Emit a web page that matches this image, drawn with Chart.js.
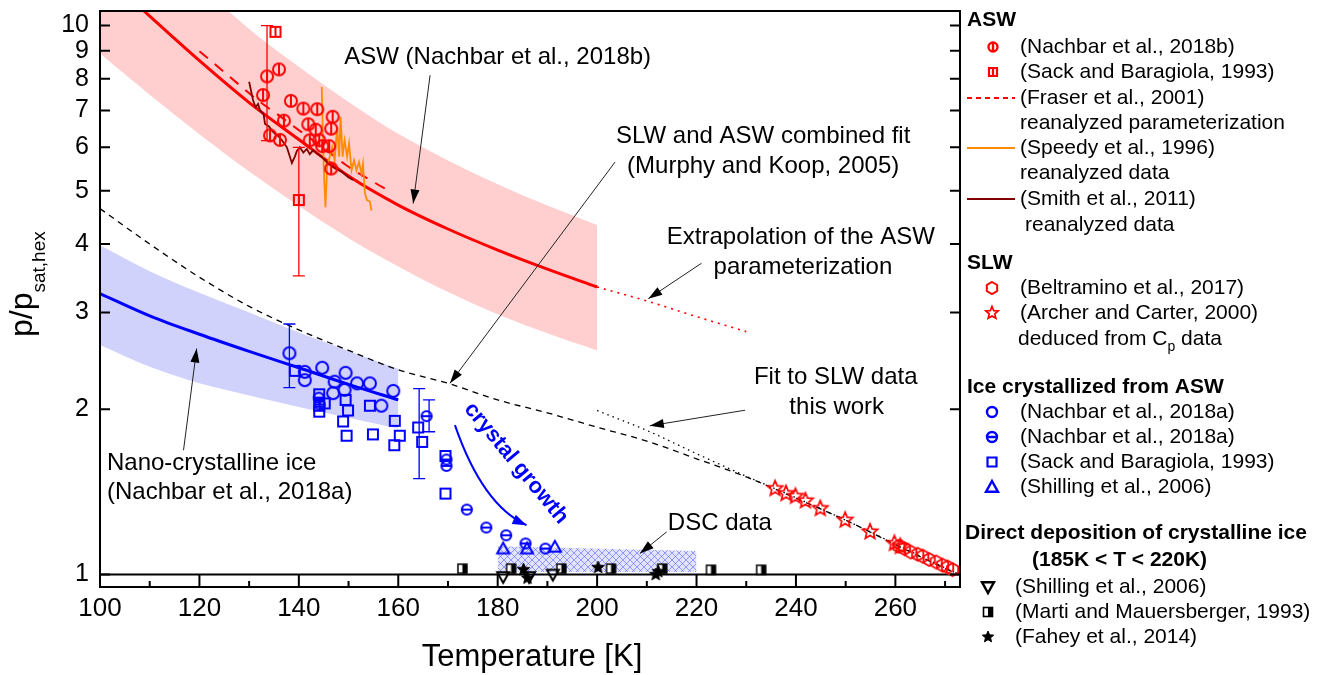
<!DOCTYPE html>
<html>
<head>
<meta charset="utf-8">
<script src="https://cdn.jsdelivr.net/npm/chart.js@4.4.0/dist/chart.umd.min.js"></script>
<style>
  html, body { margin: 0; padding: 0; background: #fff; }
  #wrap { width: 1324px; height: 675px; }
</style>
</head>
<body>
<div id="wrap"><canvas id="c" width="1324" height="675"></canvas></div>
<script>
'use strict';

const FONT = 'Arial, "Liberation Sans", sans-serif';

// ---- axis ticks ----
const xTicks = [100, 120, 140, 160, 180, 200, 220, 240, 260];
const xMinor = [110, 130, 150, 170, 190, 210, 230, 250, 270];
const yTicks = [1, 2, 3, 4, 5, 6, 7, 8, 9, 10];

// ---- ASW parameterization (Nachbar 2018b) with uncertainty band ----
const aswT   = [100, 110, 120, 130, 140, 150, 160, 170, 180, 190, 200];
const aswFit = [12.6, 10.4, 8.63, 7.24, 6.2, 5.32, 4.71, 4.26, 3.9, 3.6, 3.34];
const aswHi  = [17.8, 14.5, 11.86, 9.86, 8.41, 7.26, 6.35, 5.68, 5.14, 4.7, 4.33];
const aswLo  = [8.89, 7.48, 6.34, 5.42, 4.69, 4.1, 3.64, 3.27, 2.98, 2.75, 2.56];
const extrapT = [200, 210, 220, 230];
const extrapP = [3.34, 3.15, 2.95, 2.77];

// ---- ASW literature ----
const fraserT = [120, 124, 128, 132, 136, 140, 145, 150, 155, 158];
const fraserP = [8.98, 8.37, 7.8, 7.28, 6.86, 6.45, 5.98, 5.53, 5.19, 5.01];
const speedyT = [144.6, 145.0, 145.35, 145.7, 146.2, 146.7, 147.2, 147.7, 148.1, 148.4, 148.8, 149.2,
                 149.7, 150.1, 150.6, 151.1, 151.6, 152.1, 152.6, 152.9, 153.3, 153.7, 154.3, 154.6];
const speedyP = [7.73, 5.53, 4.67, 5.53, 5.77, 6.01, 5.68, 6.54, 5.77, 6.82, 5.77, 6.18,
                 5.77, 6.1, 5.45, 5.68, 5.45, 5.64, 5.37, 5.6, 4.94, 4.81, 4.78, 4.6];
const smithT = [130.0, 130.8, 131.3, 131.8, 132.2, 132.9, 133.2, 134.0, 134.5, 135.2, 135.8, 136.6, 137.6,
                138.2, 138.6, 139.2, 139.6, 140.2, 140.9, 141.6, 142.2, 142.9, 143.6, 144.6, 145.9,
                147.3, 148.6, 149.9, 150.9];
const smithP = [7.9, 7.3, 7.1, 7.2, 7.0, 6.9, 6.62, 6.55, 6.45, 6.35, 6.3, 6.18, 6.0,
                5.77, 5.62, 5.77, 5.91, 6.0, 5.87, 5.96, 5.83, 5.93, 5.85, 5.77, 5.6,
                5.49, 5.42, 5.3, 5.23];
const nb18bT = [132.8, 133.6, 136.0, 138.4, 140.9, 143.7, 137.0, 141.9, 143.4, 146.8, 146.5, 134.2,
                136.2, 142.2, 144.1, 144.7, 146.1, 146.5];
const nb18bP = [7.47, 8.08, 8.32, 7.29, 7.06, 7.04, 6.71, 6.61, 6.46, 6.82, 6.49, 6.31,
                6.19, 6.18, 6.18, 6.03, 6.03, 5.49];
const sackAswT = [135.3, 140.0];
const sackAswP = [9.74, 4.81];
const redErrT  = [133.6, 140.0];
const redErrLo = [6.17, 3.5];
const redErrHi = [10.0, 6.0];

// ---- SLW ----
const mkT = [100, 110, 120, 130, 140, 150, 160, 170, 180, 190, 200, 210, 220, 230, 240, 250, 260, 270, 273];
const mkP = [4.64, 4.0, 3.48, 3.08, 2.79, 2.56, 2.36, 2.23, 2.08, 1.97, 1.855, 1.75, 1.625, 1.506,
             1.377, 1.256, 1.134, 1.026, 1.0];
const slwT = [200, 210, 220, 230, 240, 250, 260, 270, 273];
const slwP = [1.99, 1.83, 1.66, 1.51, 1.38, 1.256, 1.136, 1.028, 0.998];
const archerT = [235.8, 238.0, 239.9, 241.9, 244.9, 249.9, 254.9, 259.8, 261.0];
const archerP = [1.434, 1.404, 1.388, 1.362, 1.319, 1.256, 1.196, 1.139, 1.125];
const beltT = [260.7, 261.8, 263.1, 264.5, 265.5, 266.8, 268.2, 269.5, 270.5, 271.5];
const beltP = [1.126, 1.115, 1.099, 1.089, 1.08, 1.065, 1.054, 1.04, 1.032, 1.021];

// ---- ice crystallized from ASW ----
const nanoT   = [100, 110, 120, 130, 140, 150, 160];
const nanoFit = [3.25, 2.96, 2.74, 2.55, 2.38, 2.22, 2.08];
const nanoHi  = [3.98, 3.57, 3.26, 3.0, 2.76, 2.555, 2.37];
const nanoLo  = [2.62, 2.39, 2.23, 2.12, 2.02, 1.93, 1.845];
const nb18aT = [138.1, 141.2, 141.2, 144.7, 147.2, 146.9, 149.4, 149.2, 151.7, 154.3, 156.6, 159.0];
const nb18aP = [2.53, 2.34, 2.26, 2.38, 2.245, 2.14, 2.33, 2.17, 2.23, 2.23, 2.03, 2.16];
const nb18aHT = [144.0, 144.2, 165.7, 169.7, 169.7, 173.8, 177.7, 181.7, 185.6, 189.6];
const nb18aHP = [2.1, 2.04, 1.943, 1.62, 1.577, 1.313, 1.218, 1.179, 1.139, 1.115];
const sackCrT = [139.2, 144.1, 144.1, 144.1, 145.2, 149.4, 149.9, 148.9, 149.6, 154.3, 154.9, 159.3,
                 160.3, 159.2, 164.0, 164.8, 169.5, 169.5];
const sackCrP = [2.35, 2.13, 2.03, 1.98, 2.05, 2.08, 1.99, 1.9, 1.79, 2.03, 1.8, 1.905,
                 1.79, 1.72, 1.853, 1.744, 1.644, 1.404];
const shillUpT = [181.1, 185.9, 191.5];
const shillUpP = [1.115, 1.115, 1.123];
const blueErrT  = [138.1, 164.2, 166.2];
const blueErrLo = [2.19, 1.495, 1.82];
const blueErrHi = [2.86, 2.18, 2.08];

// ---- direct deposition ----
const shillDnT = [181.1, 186.3, 191.1];
const shillDnP = [0.99, 0.99, 1.0];
const martiT = [172.9, 182.7, 192.8, 202.8, 213.1, 222.9, 233.0];
const martiP = [1.025, 1.025, 1.025, 1.025, 1.025, 1.02, 1.02];
const faheyT = [185.2, 186.0, 200.2, 211.8, 212.3];
const faheyP = [1.021, 0.985, 1.03, 1.0, 1.012];
const dscT   = [180, 220];
const dscTop = [1.126, 1.104];
const dscBot = [1.011, 1.011];
const unityT = [100, 273];
const unityP = [1, 1];

// ---- annotations (data coordinates) ----
const notes = [
    { text: 'ASW (Nachbar et al., 2018b)', T: 180, p: 8.75, align: 'center' },
    { text: 'SLW and ASW combined fit', T: 233.4, p: 6.27, align: 'center' },
    { text: '(Murphy and Koop, 2005)', T: 233.4, p: 5.53, align: 'center' },
    { text: 'Extrapolation of the ASW', T: 241.0, p: 4.12, align: 'center' },
    { text: 'parameterization', T: 241.4, p: 3.63, align: 'center' },
    { text: 'Fit to SLW data', T: 248.0, p: 2.29, align: 'center' },
    { text: 'this work', T: 248.2, p: 2.02, align: 'center' },
    { text: 'Nano-crystalline ice', T: 101.4, p: 1.593, align: 'left' },
    { text: '(Nachbar et al., 2018a)', T: 101.4, p: 1.414, align: 'left' },
    { text: 'DSC data', T: 224.7, p: 1.238, align: 'center' },
];
const arrows = [
    [[166.4, 8.12], [163.0, 4.74]],
    [[203.6, 5.64], [170.4, 2.23]],
    [[221.0, 3.69], [210.3, 3.18]],
    [[229.75, 1.992], [210.6, 1.866]],
    [[116.8, 1.684], [119.45, 2.58]],
    [[214.0, 1.196], [208.6, 1.092]],
];
const growthArrow = [[171.4, 1.871], [176.97, 1.337], [185.8, 1.23]];
const growthLabel = { text: 'crystal growth', T: 183.7, p: 1.595, angle: 50.4 };

// ---- symbols ----
function drawSym(ctx, kind, x, y, s, color, lw) {
    const r = s / 2;
    ctx.save();
    ctx.strokeStyle = color;
    ctx.fillStyle = color;
    ctx.lineWidth = lw;
    ctx.lineJoin = 'miter';
    ctx.beginPath();
    if (kind === 'circle' || kind === 'circleV' || kind === 'circleH') {
        ctx.arc(x, y, r, 0, Math.PI * 2);
        if (kind === 'circleV') { ctx.moveTo(x, y - r); ctx.lineTo(x, y + r); }
        if (kind === 'circleH') { ctx.moveTo(x - r, y); ctx.lineTo(x + r, y); }
        ctx.stroke();
    } else if (kind === 'square' || kind === 'squareV') {
        ctx.rect(x - r, y - r, s, s);
        if (kind === 'squareV') { ctx.moveTo(x, y - r); ctx.lineTo(x, y + r); }
        ctx.stroke();
    } else if (kind === 'halfSquare') {
        ctx.fillStyle = '#fff';
        ctx.fillRect(x - r, y - r, s, s);
        ctx.fillStyle = color;
        ctx.fillRect(x, y - r, r, s);
        ctx.strokeRect(x - r, y - r, s, s);
    } else if (kind === 'triUp' || kind === 'triDown') {
        const d = kind === 'triUp' ? 1 : -1;
        ctx.moveTo(x, y - d * r);
        ctx.lineTo(x + r, y + d * r * 0.8);
        ctx.lineTo(x - r, y + d * r * 0.8);
        ctx.closePath();
        ctx.stroke();
    } else if (kind === 'hexagon') {
        for (let i = 0; i < 6; i++) {
            const a = -Math.PI / 2 + i * Math.PI / 3;
            ctx.lineTo(x + r * Math.cos(a), y + r * Math.sin(a));
        }
        ctx.closePath();
        ctx.stroke();
    } else if (kind === 'star' || kind === 'starFill') {
        for (let i = 0; i < 10; i++) {
            const a = -Math.PI / 2 + i * Math.PI / 5;
            const rr = i % 2 ? r * 0.45 : r;
            ctx.lineTo(x + rr * Math.cos(a), y + rr * Math.sin(a));
        }
        ctx.closePath();
        if (kind === 'starFill') ctx.fill();
        ctx.stroke();
    }
    ctx.restore();
}

function makeSym(kind, s, color, lw) {
    const pad = Math.ceil(lw) + 2;
    const c = document.createElement('canvas');
    c.width = c.height = Math.ceil(s) + pad * 2;
    drawSym(c.getContext('2d'), kind, c.width / 2, c.height / 2, s, color, lw);
    return c;
}

const RED = '#ff0000', BLUE = '#0000ff', BLACK = '#000000';

const canvas = document.getElementById('c');
const ctx0 = canvas.getContext('2d');

function makeHatch() {
    const c = document.createElement('canvas');
    c.width = c.height = 7;
    const g = c.getContext('2d');
    g.fillStyle = 'rgba(205,208,255,0.6)';
    g.fillRect(0, 0, 7, 7);
    g.strokeStyle = 'rgba(80,90,255,0.7)';
    g.lineWidth = 0.8;
    g.beginPath();
    g.moveTo(0, 0); g.lineTo(7, 7);
    g.moveTo(7, 0); g.lineTo(0, 7);
    g.stroke();
    return ctx0.createPattern(c, 'repeat');
}

const pts = (xs, ys) => xs.map((x, i) => ({ x, y: ys[i] }));

function lineDs(xs, ys, color, width, dash, order, extra) {
    return Object.assign({
        data: pts(xs, ys), showLine: true, borderColor: color, borderWidth: width,
        borderDash: dash || [], pointRadius: 0, fill: false, tension: 0, order,
    }, extra || {});
}
function markDs(xs, ys, sym, order) {
    return { data: pts(xs, ys), showLine: false, pointStyle: sym, pointRadius: 5, order };
}
const smooth = { cubicInterpolationMode: 'monotone' };

const datasets = [
    lineDs(aswT, aswHi, 'transparent', 0, null, 30, { fill: '+1', backgroundColor: 'rgba(255,0,0,0.19)', ...smooth }),
    lineDs(aswT, aswLo, 'transparent', 0, null, 30, smooth),
    lineDs(nanoT, nanoHi, 'transparent', 0, null, 30, { fill: '+1', backgroundColor: 'rgba(20,30,235,0.2)', ...smooth }),
    lineDs(nanoT, nanoLo, 'transparent', 0, null, 30, smooth),
    lineDs(dscT, dscTop, 'transparent', 0, null, 29, { fill: '+1', backgroundColor: makeHatch() }),
    lineDs(dscT, dscBot, 'transparent', 0, null, 29),
    lineDs(mkT, mkP, BLACK, 1.3, [6, 5], 20, smooth),
    lineDs(slwT, slwP, BLACK, 1.3, [1.5, 4], 20, smooth),
    lineDs(extrapT, extrapP, RED, 1.6, [2, 5], 20, smooth),
    lineDs(unityT, unityP, BLACK, 2, null, 19),
    lineDs(aswT, aswFit, RED, 3, null, 18, smooth),
    lineDs(fraserT, fraserP, RED, 2, [11, 9], 18, smooth),
    lineDs(speedyT, speedyP, '#ff8c00', 1.8, null, 17),
    lineDs(smithT, smithP, '#800000', 1.8, null, 16),
    lineDs(nanoT, nanoFit, BLUE, 3, null, 18, smooth),
    markDs(martiT, martiP, makeSym('halfSquare', 9, BLACK, 1.5), 9),
    markDs(shillDnT, shillDnP, makeSym('triDown', 12, BLACK, 2), 8),
    markDs(faheyT, faheyP, makeSym('starFill', 13, BLACK, 1), 7),
    markDs(sackCrT, sackCrP, makeSym('square', 10, BLUE, 2), 6),
    markDs(nb18aT, nb18aP, makeSym('circle', 12, BLUE, 2), 5),
    markDs(nb18aHT, nb18aHP, makeSym('circleH', 10, BLUE, 2.2), 5),
    markDs(shillUpT, shillUpP, makeSym('triUp', 12, BLUE, 2), 5),
    markDs(archerT, archerP, makeSym('star', 16, RED, 1.7), 4),
    markDs(beltT, beltP, makeSym('hexagon', 13, RED, 1.8), 4),
    markDs(sackAswT, sackAswP, makeSym('squareV', 10, RED, 2), 3),
    markDs(nb18bT, nb18bP, makeSym('circleV', 12, RED, 2), 2),
];

function arrowHead(ctx, x0, y0, x1, y1, len, half) {
    const a = Math.atan2(y1 - y0, x1 - x0);
    ctx.beginPath();
    ctx.moveTo(x1, y1);
    ctx.lineTo(x1 - len * Math.cos(a) + half * Math.sin(a), y1 - len * Math.sin(a) - half * Math.cos(a));
    ctx.lineTo(x1 - len * Math.cos(a) - half * Math.sin(a), y1 - len * Math.sin(a) + half * Math.cos(a));
    ctx.closePath();
    ctx.fill();
}

function drawErrBars(ctx, xs, ys, Ts, lo, hi, color) {
    ctx.save();
    ctx.strokeStyle = color;
    ctx.lineWidth = 1.3;
    Ts.forEach((t, i) => {
        const x = xs.getPixelForValue(t);
        const y0 = ys.getPixelForValue(lo[i]);
        const y1 = ys.getPixelForValue(hi[i]);
        ctx.beginPath();
        ctx.moveTo(x, y0); ctx.lineTo(x, y1);
        ctx.moveTo(x - 6, y0); ctx.lineTo(x + 6, y0);
        ctx.moveTo(x - 6, y1); ctx.lineTo(x + 6, y1);
        ctx.stroke();
    });
    ctx.restore();
}

const annotations = {
    id: 'annotations',
    afterDatasetsDraw(chart) {
        const { ctx, scales: { x: xs, y: ys } } = chart;
        drawErrBars(ctx, xs, ys, redErrT, redErrLo, redErrHi, RED);
        drawErrBars(ctx, xs, ys, blueErrT, blueErrLo, blueErrHi, BLUE);

        ctx.save();
        ctx.fillStyle = '#000';
        ctx.font = '24px ' + FONT;
        ctx.textBaseline = 'middle';
        notes.forEach(n => {
            ctx.textAlign = n.align;
            ctx.fillText(n.text, xs.getPixelForValue(n.T), ys.getPixelForValue(n.p));
        });

        ctx.strokeStyle = '#222';
        ctx.fillStyle = '#000';
        ctx.lineWidth = 1;
        arrows.forEach(([a, b]) => {
            const x0 = xs.getPixelForValue(a[0]), y0 = ys.getPixelForValue(a[1]);
            const x1 = xs.getPixelForValue(b[0]), y1 = ys.getPixelForValue(b[1]);
            ctx.beginPath();
            ctx.moveTo(x0, y0); ctx.lineTo(x1, y1);
            ctx.stroke();
            arrowHead(ctx, x0, y0, x1, y1, 14, 4.5);
        });

        // crystal growth arrow + label
        const g = growthArrow.map(([t, p]) => [xs.getPixelForValue(t), ys.getPixelForValue(p)]);
        ctx.strokeStyle = BLUE;
        ctx.fillStyle = BLUE;
        ctx.lineWidth = 2;
        ctx.beginPath();
        ctx.moveTo(g[0][0], g[0][1]);
        ctx.quadraticCurveTo(g[1][0], g[1][1], g[2][0], g[2][1]);
        ctx.stroke();
        arrowHead(ctx, g[1][0], g[1][1], g[2][0], g[2][1], 14, 5);

        ctx.translate(xs.getPixelForValue(growthLabel.T), ys.getPixelForValue(growthLabel.p));
        ctx.rotate(growthLabel.angle * Math.PI / 180);
        ctx.font = 'bold 22px ' + FONT;
        ctx.textAlign = 'center';
        ctx.fillText(growthLabel.text, 0, 0);
        ctx.restore();
    },
    afterDraw(chart) {
        const { ctx, chartArea: a, scales: { x: xs, y: ys } } = chart;
        ctx.save();
        ctx.strokeStyle = '#000';
        ctx.lineWidth = 2;
        ctx.strokeRect(a.left, a.top, a.right - a.left, a.bottom - a.top);
        ctx.beginPath();
        xTicks.forEach(t => {
            const x = xs.getPixelForValue(t);
            ctx.moveTo(x, a.bottom); ctx.lineTo(x, a.bottom - 12);
        });
        xMinor.forEach(t => {
            const x = xs.getPixelForValue(t);
            ctx.moveTo(x, a.bottom); ctx.lineTo(x, a.bottom - 6);
        });
        yTicks.forEach(v => {
            const y = ys.getPixelForValue(v);
            ctx.moveTo(a.left, y); ctx.lineTo(a.left + 10, y);
            ctx.moveTo(a.right, y); ctx.lineTo(a.right - 10, y);
        });
        ctx.stroke();

        // axis titles
        ctx.fillStyle = '#000';
        ctx.font = '31px ' + FONT;
        ctx.textAlign = 'center';
        ctx.textBaseline = 'middle';
        ctx.fillText('Temperature [K]', (a.left + a.right) / 2 + 2, 657);

        ctx.save();
        ctx.translate(32, 337);
        ctx.rotate(-Math.PI / 2);
        ctx.textAlign = 'left';
        ctx.textBaseline = 'alphabetic';
        ctx.font = '32px ' + FONT;
        ctx.fillText('p/p', 0, 0);
        const w = ctx.measureText('p/p').width;
        ctx.font = '19px ' + FONT;
        ctx.fillText('sat,hex', w, 13);
        ctx.restore();

        drawLegend(ctx);
        ctx.restore();
    },
};

function drawLegend(ctx) {
    ctx.save();
    ctx.fillStyle = '#000';
    ctx.textAlign = 'left';
    ctx.textBaseline = 'middle';
    const head = (t, x, y) => { ctx.font = 'bold 21px ' + FONT; ctx.fillStyle = '#000'; ctx.fillText(t, x, y); };
    const txt = (t, x, y) => { ctx.font = '21px ' + FONT; ctx.fillStyle = '#000'; ctx.fillText(t, x, y); };
    const seg = (y, color, dash) => {
        ctx.save();
        ctx.strokeStyle = color; ctx.lineWidth = 2; ctx.setLineDash(dash || []);
        ctx.beginPath(); ctx.moveTo(967, y); ctx.lineTo(1015, y); ctx.stroke();
        ctx.restore();
    };

    head('ASW', 967, 20);
    drawSym(ctx, 'circleV', 993, 47, 9, RED, 2.4); txt('(Nachbar et al., 2018b)', 1020, 47);
    drawSym(ctx, 'squareV', 993, 72, 8, RED, 2.2); txt('(Sack and Baragiola, 1993)', 1020, 72);
    seg(98, RED, [5, 4]); txt('(Fraser et al., 2001)', 1020, 98);
    txt('reanalyzed parameterization', 1020, 123);
    seg(148, '#ff8c00'); txt('(Speedy et al., 1996)', 1020, 148);
    txt('reanalyzed data', 1020, 173);
    seg(199, '#800000'); txt('(Smith et al., 2011)', 1020, 199);
    txt('reanalyzed data', 1025, 225);

    head('SLW', 967, 263);
    drawSym(ctx, 'hexagon', 992, 288, 12, RED, 2); txt('(Beltramino et al., 2017)', 1020, 288);
    drawSym(ctx, 'star', 992, 313, 13, RED, 1.7); txt('(Archer and Carter, 2000)', 1020, 313);
    txt('deduced from C', 1018, 339);
    ctx.font = '21px ' + FONT;
    const wc = ctx.measureText('deduced from C').width;
    ctx.font = '14px ' + FONT;
    ctx.fillText('p', 1018 + wc, 347);
    const wp = ctx.measureText('p').width;
    txt(' data', 1018 + wc + wp, 339);

    head('Ice crystallized from ASW', 967, 387);
    drawSym(ctx, 'circle', 992, 412, 10, BLUE, 2.4); txt('(Nachbar et al., 2018a)', 1020, 412);
    drawSym(ctx, 'circleH', 992, 437, 10, BLUE, 2.4); txt('(Nachbar et al., 2018a)', 1020, 437);
    drawSym(ctx, 'square', 992, 462, 9, BLUE, 2.2); txt('(Sack and Baragiola, 1993)', 1020, 462);
    drawSym(ctx, 'triUp', 992, 487, 12, BLUE, 2.4); txt('(Shilling et al., 2006)', 1020, 487);

    head('Direct deposition of crystalline ice', 965, 533);
    head('(185K < T < 220K)', 1032, 560);
    drawSym(ctx, 'triDown', 988, 587, 12, BLACK, 2.4); txt('(Shilling et al., 2006)', 1015, 587);
    drawSym(ctx, 'halfSquare', 988, 612, 9, BLACK, 1.6); txt('(Marti and Mauersberger, 1993)', 1015, 612);
    drawSym(ctx, 'starFill', 988, 637, 12, BLACK, 1); txt('(Fahey et al., 2014)', 1015, 637);
    ctx.restore();
}

// remove the automatic half-label padding so the plot area matches the original frame
function noPad(s) {
    s.paddingTop = 0; s.paddingBottom = 0; s.paddingLeft = 0; s.paddingRight = 0;
}

Chart.defaults.font.family = FONT;
Chart.defaults.color = '#000';

new Chart(canvas, {
    type: 'scatter',
    data: { datasets },
    options: {
        responsive: false,
        animation: false,
        devicePixelRatio: 1,
        events: [],
        layout: { padding: { left: 0, right: 364, top: 11, bottom: 0 } },
        plugins: { legend: { display: false }, tooltip: { enabled: false } },
        scales: {
            x: {
                type: 'linear', min: 100, max: 273,
                grid: { display: false, drawTicks: false },
                border: { display: false },
                ticks: { font: { size: 26 }, color: '#000', padding: 6, maxRotation: 0, callback: v => String(v) },
                afterBuildTicks: s => { s.ticks = xTicks.map(v => ({ value: v })); },
                afterFit: s => { s.height = 88; noPad(s); },
            },
            y: {
                type: 'logarithmic', min: 0.949, max: 10.63,
                grid: { display: false, drawTicks: false },
                border: { display: false },
                ticks: { font: { size: 25 }, color: '#000', padding: 11, callback: v => String(v) },
                afterBuildTicks: s => { s.ticks = yTicks.map(v => ({ value: v })); },
                afterFit: s => { s.width = 100; noPad(s); },
            },
        },
    },
    plugins: [annotations],
});
</script>
</body>
</html>
